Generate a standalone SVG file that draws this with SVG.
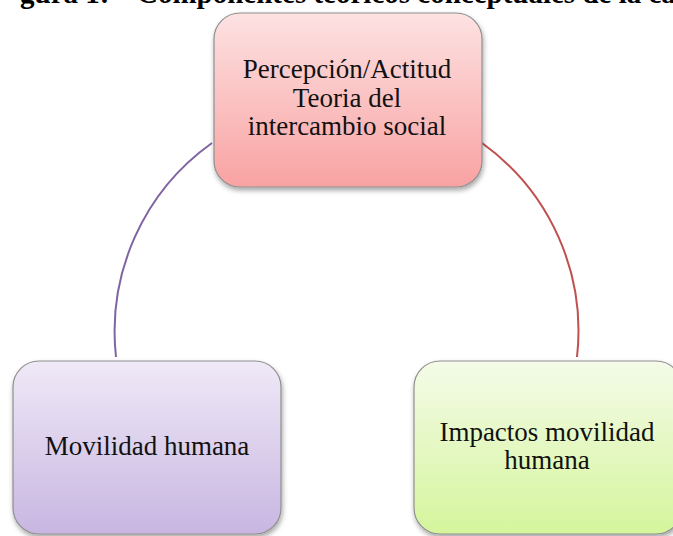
<svg xmlns="http://www.w3.org/2000/svg" width="673" height="536" viewBox="0 0 673 536">
<style>
.box{stroke:#8f8f8f;stroke-width:1.2;filter:url(#sh)}
.lbl{font-family:"Liberation Serif","Times New Roman",serif;font-size:27px;fill:#111;text-anchor:middle}
.title{font-family:"Liberation Serif","Times New Roman",serif;font-size:29px;font-weight:bold;fill:#000}
.arc{fill:none;stroke-width:2}
</style>
<defs>
<linearGradient id="gPink" x1="0" y1="0" x2="0" y2="1"><stop offset="0" stop-color="#fde2e2"/><stop offset="1" stop-color="#f9a2a2"/></linearGradient>
<linearGradient id="gPurple" x1="0" y1="0" x2="0" y2="1"><stop offset="0" stop-color="#efe9f7"/><stop offset="1" stop-color="#c8b6e1"/></linearGradient>
<linearGradient id="gGreen" x1="0" y1="0" x2="0" y2="1"><stop offset="0" stop-color="#f4fbe8"/><stop offset="1" stop-color="#d5f59c"/></linearGradient>
<filter id="sh" x="-10%" y="-10%" width="125%" height="130%"><feDropShadow dx="1" dy="3" stdDeviation="2.5" flood-color="#000" flood-opacity="0.35"/></filter>
</defs>
<text class="title" y="3"><tspan x="20">gura 1:</tspan><tspan x="137">Componentes teóricos conceptuales de la ca</tspan></text>
<g id="connectors">
<path class="arc" stroke="#8064a2" d="M 212 143 A 231.5 231.5 0 0 0 116 357"/>
<path class="arc" stroke="#c0504d" d="M 482 143 A 231.5 231.5 0 0 1 577 357"/>
</g>
<g id="node-percepcion">
<rect class="box" x="214" y="13" width="268" height="174" rx="26" fill="url(#gPink)"/>
<text class="lbl" x="347" y="78">Percepción/Actitud</text>
<text class="lbl" x="347" y="107">Teoria  del</text>
<text class="lbl" x="347" y="135">intercambio social</text>
</g>
<g id="node-movilidad">
<rect class="box" x="13" y="361" width="268" height="173" rx="26" fill="url(#gPurple)"/>
<text class="lbl" x="147" y="455">Movilidad humana</text>
</g>
<g id="node-impactos">
<rect class="box" x="414" y="361" width="268" height="173" rx="26" fill="url(#gGreen)"/>
<text class="lbl" x="547" y="441">Impactos movilidad</text>
<text class="lbl" x="547" y="469">humana</text>
</g>
</svg>
